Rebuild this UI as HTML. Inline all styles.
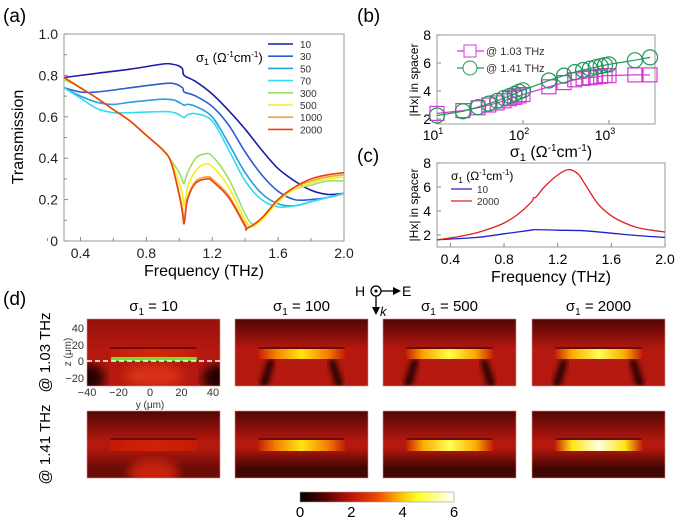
<!DOCTYPE html>
<html><head><meta charset="utf-8"><style>
body{margin:0;background:#fff}
svg{display:block;font-family:"Liberation Sans",sans-serif}
</style></head><body>
<svg id="fig" width="675" height="519" viewBox="0 0 675 519" xmlns="http://www.w3.org/2000/svg">
<defs>
<filter id="blur3"><feGaussianBlur stdDeviation="3"/></filter>
<filter id="blur5"><feGaussianBlur stdDeviation="5"/></filter>
<clipPath id="clipA"><rect x="64" y="34" width="280" height="207"/></clipPath>
<clipPath id="clipC"><rect x="437" y="163" width="228" height="84"/></clipPath>
</defs>
<g id="pa"></g>
<g id="pb"></g>
<g id="pc"></g>
<g id="pd"></g>
</svg>
<script>
// ---------- Panel (a) data ----------
const aSigmas=["10","30","50","70","300","500","1000","2000"];
const aColors=["#1c1ca8","#2c5cd8","#2a9ce2","#35dcf0","#98e068","#f2f020","#f5a535","#e84512"];
const aF10=[0.3,0.5,0.7,0.9,0.95,1.0,1.02,1.03,1.1,1.2,1.3,1.4,1.5,1.6,1.7,1.8,1.9,2.0];
const aT10=[0.79,0.81,0.83,0.855,0.855,0.845,0.83,0.80,0.77,0.71,0.63,0.54,0.44,0.35,0.29,0.245,0.225,0.23];
const aF30=[0.3,0.4,0.5,0.7,0.9,0.97,1.02,1.03,1.1,1.2,1.3,1.4,1.5,1.6,1.7,1.8,1.9,2.0];
const aT30=[0.74,0.72,0.72,0.74,0.76,0.76,0.74,0.72,0.70,0.65,0.56,0.43,0.32,0.24,0.20,0.20,0.21,0.23];
const aF50=[0.3,0.4,0.5,0.6,0.7,0.9,0.97,1.02,1.03,1.05,1.1,1.2,1.3,1.4,1.5,1.6,1.7,1.8,1.9,2.0];
const aT50=[0.74,0.70,0.67,0.66,0.67,0.685,0.68,0.66,0.655,0.66,0.65,0.60,0.47,0.33,0.23,0.18,0.17,0.19,0.21,0.23];
const aF70=[0.3,0.4,0.5,0.6,0.7,0.9,0.97,1.02,1.03,1.05,1.1,1.2,1.3,1.4,1.5,1.6,1.7,1.8,1.9,2.0];
const aT70=[0.74,0.69,0.64,0.62,0.62,0.625,0.62,0.60,0.595,0.61,0.615,0.58,0.44,0.29,0.20,0.165,0.17,0.19,0.21,0.23];
const aF300=[0.3,0.4,0.5,0.6,0.7,0.8,0.9,0.95,1.0,1.02,1.03,1.05,1.1,1.15,1.2,1.3,1.4,1.45,1.5,1.6,1.7,1.8,1.9,2.0];
const aT300=[0.78,0.74,0.69,0.635,0.58,0.51,0.44,0.39,0.33,0.29,0.28,0.33,0.40,0.42,0.41,0.30,0.13,0.08,0.11,0.20,0.25,0.27,0.29,0.29];
const aF500=[0.3,0.4,0.5,0.6,0.7,0.8,0.9,0.95,1.0,1.02,1.03,1.05,1.1,1.15,1.2,1.3,1.4,1.44,1.5,1.6,1.7,1.8,1.9,2.0];
const aT500=[0.785,0.74,0.69,0.635,0.58,0.51,0.44,0.385,0.28,0.22,0.17,0.26,0.34,0.37,0.36,0.26,0.10,0.07,0.10,0.19,0.25,0.28,0.30,0.31];
const aF1000=[0.3,0.4,0.5,0.6,0.7,0.8,0.9,0.95,1.0,1.02,1.03,1.05,1.1,1.17,1.2,1.3,1.4,1.42,1.5,1.6,1.7,1.8,1.9,2.0];
const aT1000=[0.79,0.74,0.69,0.635,0.58,0.51,0.44,0.38,0.23,0.15,0.10,0.21,0.29,0.31,0.30,0.22,0.08,0.065,0.11,0.20,0.26,0.29,0.31,0.32];
const aF2000=[0.3,0.4,0.5,0.6,0.7,0.8,0.9,0.95,1.0,1.02,1.03,1.05,1.1,1.17,1.2,1.3,1.4,1.41,1.5,1.6,1.7,1.8,1.9,2.0];
const aT2000=[0.79,0.74,0.69,0.635,0.58,0.51,0.44,0.38,0.22,0.13,0.085,0.20,0.28,0.30,0.29,0.21,0.07,0.06,0.11,0.20,0.26,0.30,0.32,0.33];
const aXTicks=[0.4,0.8,1.2,1.6,2.0];
const aXTickLabels=["0.4","0.8","1.2","1.6","2.0"];
const aYTicks=[0,0.2,0.4,0.6,0.8,1.0];
const aYTickLabels=["0","0.2","0.4","0.6","0.8","1.0"];
// ---------- Panel (b) data ----------
const bSigma=[10,20,30,40,50,60,70,80,90,100,200,300,400,500,600,700,800,900,1000,2000,3000];
const bH103=[2.4,2.6,2.8,3.0,3.15,3.3,3.45,3.55,3.65,3.75,4.3,4.6,4.8,4.9,4.95,5.0,5.05,5.1,5.1,5.15,5.15];
const bH141=[2.25,2.55,2.85,3.1,3.3,3.5,3.65,3.8,3.95,4.05,4.75,5.1,5.35,5.5,5.6,5.7,5.78,5.85,5.9,6.2,6.4];
const bYTicks=[2,4,6,8];
const bXDecades=[1,2,3];
// ---------- Panel (c) data ----------
const cF10=[0.3,0.6,0.8,1.0,1.03,1.2,1.4,1.6,1.8,2.0];
const cH10=[1.6,1.8,2.1,2.4,2.45,2.4,2.35,2.15,1.95,1.8];
const cF2000=[0.3,0.4,0.5,0.6,0.7,0.8,0.9,1.0,1.02,1.03,1.05,1.1,1.2,1.28,1.35,1.4,1.5,1.6,1.7,1.8,1.9,2.0];
const cH2000=[1.6,1.75,1.95,2.2,2.55,3.0,3.7,4.7,5.1,5.1,5.3,6.0,7.0,7.45,7.1,6.3,4.6,3.6,3.0,2.6,2.4,2.25];
const cXTicks=[0.4,0.8,1.2,1.6,2.0];
const cYTicks=[2,4,6,8];
// ---------- Panel (d) data ----------
const dColTitles=["10","100","500","2000"];
const dRowLabels=["@ 1.03 THz","@ 1.41 THz"];
const dPeak103=[2.4,4.3,4.8,4.9];
const dPeak141=[2.3,4.3,4.9,5.8];
const cbTicks=[0,2,4,6];

const NS="http://www.w3.org/2000/svg";
function mk(parent,tag,attrs,text){const e=document.createElementNS(NS,tag);for(const k in attrs)e.setAttribute(k,attrs[k]);if(text!==undefined)e.textContent=text;parent.appendChild(e);return e;}
function smooth(P){
 let d='M'+P[0][0].toFixed(1)+','+P[0][1].toFixed(1);
 for(let i=0;i<P.length-1;i++){
  const p0=P[Math.max(i-1,0)],p1=P[i],p2=P[i+1],p3=P[Math.min(i+2,P.length-1)];
  const k=1/6;
  const c1=[p1[0]+(p2[0]-p0[0])*k,p1[1]+(p2[1]-p0[1])*k];
  const c2=[p2[0]-(p3[0]-p1[0])*k,p2[1]-(p3[1]-p1[1])*k];
  d+=' C'+c1.map(v=>v.toFixed(1)).join(',')+' '+c2.map(v=>v.toFixed(1)).join(',')+' '+p2[0].toFixed(1)+','+p2[1].toFixed(1);
 }
 return d;
}

// ================= Panel (a) =================
const pa=document.getElementById('pa');
const ax=f=>64+(f-0.3)/1.7*280, ay=t=>241-t*207;
let t=mk(pa,'text',{x:3,y:22,'font-size':19},'(a)');


let fr=mk(pa,'rect',{x:64,y:34,width:280,height:207,fill:'none',stroke:'#999','stroke-width':1});


aXTicks.forEach((v,i)=>{
 mk(pa,'line',{x1:ax(v),x2:ax(v),y1:241,y2:237,stroke:'#888'});
 mk(pa,'line',{x1:ax(v)-33,x2:ax(v)-33,y1:241,y2:238,stroke:'#888'});
 const l=mk(pa,'text',{x:ax(v),y:258,'font-size':14,'text-anchor':'middle',fill:'#222'},aXTickLabels[i]);
 
 
});
aYTicks.forEach((v,i)=>{
 mk(pa,'line',{x1:64,x2:68,y1:ay(v),y2:ay(v),stroke:'#888'});
 if(v<1)mk(pa,'line',{x1:64,x2:67,y1:ay(v+0.1),y2:ay(v+0.1),stroke:'#888'});
 const l=mk(pa,'text',{x:58,y:ay(v)+5,'font-size':14,'text-anchor':'end',fill:'#222'},aYTickLabels[i]);
 
 
});
t=mk(pa,'text',{x:204,y:276,'font-size':16,'text-anchor':'middle'},'Frequency (THz)');


t=mk(pa,'text',{x:0,y:0,'font-size':16,'text-anchor':'middle',transform:'translate(23,137) rotate(-90)'},'Transmission');


const aF=[aF10,aF30,aF50,aF70,aF300,aF500,aF1000,aF2000];
const aT=[aT10,aT30,aT50,aT70,aT300,aT500,aT1000,aT2000];
const gA=mk(pa,'g',{'clip-path':'url(#clipA)'});
aSigmas.forEach((s,i)=>{
 const P=aF[i].map((f,j)=>[ax(f),ay(aT[i][j])]);
 const pl=mk(gA,'path',{d:smooth(P),fill:'none',stroke:aColors[i],'stroke-width':1.6,'stroke-linejoin':'round'});
 
 
});
t=mk(pa,'text',{x:196,y:62,'font-size':13},'');


t.innerHTML='σ<tspan font-size="9" dy="3">1</tspan><tspan dy="-3"> (Ω</tspan><tspan font-size="8" dy="-5">-1</tspan><tspan dy="5">cm</tspan><tspan font-size="8" dy="-5">-1</tspan><tspan dy="5">)</tspan>';
aSigmas.forEach((s,i)=>{
 const y=44+i*12.2;
 const g=mk(pa,'g',{});
 
 
 mk(g,'line',{x1:268,x2:293,y1:y,y2:y,stroke:aColors[i],'stroke-width':1.6});
 mk(g,'text',{x:300,y:y+4,'font-size':10,fill:'#333'},s);
});

// ================= Panel (b) =================
const pb=document.getElementById('pb');
const bx=s=>437+(Math.log10(s)-1)*86, by=h=>35+(8-h)*14;
t=mk(pb,'text',{x:357,y:22,'font-size':19},'(b)');


fr=mk(pb,'rect',{x:437,y:35,width:218,height:89,fill:'none',stroke:'#999'});


bYTicks.forEach(v=>{
 mk(pb,'line',{x1:437,x2:441,y1:by(v),y2:by(v),stroke:'#888'});
 const l=mk(pb,'text',{x:431,y:by(v)+5,'font-size':14,'text-anchor':'end'},String(v));
 
 
});
bXDecades.forEach(d=>{
 const x=bx(Math.pow(10,d));
 mk(pb,'line',{x1:x,x2:x,y1:124,y2:120,stroke:'#888'});
 const l=mk(pb,'text',{x:x-4,y:140,'font-size':14,'text-anchor':'middle'},'');
 l.innerHTML='10<tspan font-size="9" dy="-6">'+d+'</tspan>';
 
 
});
t=mk(pb,'text',{x:551,y:157,'font-size':16,'text-anchor':'middle'},'');
t.innerHTML='σ<tspan font-size="11" dy="4">1</tspan><tspan dy="-4"> (Ω</tspan><tspan font-size="10" dy="-6">-1</tspan><tspan dy="6">cm</tspan><tspan font-size="10" dy="-6">-1</tspan><tspan dy="6">)</tspan>';


t=mk(pb,'text',{x:0,y:0,'font-size':12,'text-anchor':'middle',transform:'translate(418,80) rotate(-90)'},'|Hx| in spacer');


function bSeries(vals,col,shape,name){
 const g=mk(pb,'g',{});
 
 
 mk(g,'polyline',{points:bSigma.map((s,j)=>bx(s).toFixed(1)+','+by(vals[j]).toFixed(1)).join(' '),fill:'none',stroke:col,'stroke-width':1.2});
 bSigma.forEach((s,j)=>{
  let m;
  if(shape==='sq')m=mk(g,'rect',{x:bx(s)-7,y:by(vals[j])-7,width:14,height:14,fill:'none',stroke:col,'stroke-width':1.2});
  else m=mk(g,'circle',{cx:bx(s),cy:by(vals[j]),r:7.5,fill:'none',stroke:col,'stroke-width':1.2});
  
  
 });
}
bSeries(bH103,'#d838d8','sq','series-1-03-thz');
bSeries(bH141,'#20965a','ci','series-1-41-thz');
[['sq','#d838d8','@ 1.03 THz',51],['ci','#20965a','@ 1.41 THz',68]].forEach(e=>{
 const g=mk(pb,'g',{});
 
 
 mk(g,'line',{x1:457,x2:484,y1:e[3],y2:e[3],stroke:e[1],'stroke-width':1.2});
 if(e[0]==='sq')mk(g,'rect',{x:464,y:e[3]-6,width:12,height:12,fill:'#fff',stroke:e[1]});
 else mk(g,'circle',{cx:470,cy:e[3],r:7,fill:'#fff',stroke:e[1]});
 mk(g,'text',{x:486,y:e[3]+4,'font-size':11,fill:'#333'},e[2]);
});

// ================= Panel (c) =================
const pc=document.getElementById('pc');
const cx=f=>437+(f-0.3)/1.7*228, cy=h=>247-(h-1)*12;
t=mk(pc,'text',{x:357,y:162,'font-size':19},'(c)');


fr=mk(pc,'rect',{x:437,y:163,width:228,height:84,fill:'none',stroke:'#999'});


cYTicks.forEach(v=>{
 mk(pc,'line',{x1:437,x2:441,y1:cy(v),y2:cy(v),stroke:'#888'});
 const l=mk(pc,'text',{x:431,y:cy(v)+5,'font-size':14,'text-anchor':'end'},String(v));
 
 
});
cXTicks.forEach(v=>{
 mk(pc,'line',{x1:cx(v),x2:cx(v),y1:247,y2:243,stroke:'#888'});
 const l=mk(pc,'text',{x:cx(v),y:264,'font-size':14,'text-anchor':'middle'},v.toFixed(1));
 
 
});
t=mk(pc,'text',{x:551,y:282,'font-size':16,'text-anchor':'middle'},'Frequency (THz)');


t=mk(pc,'text',{x:0,y:0,'font-size':12,'text-anchor':'middle',transform:'translate(418,205) rotate(-90)'},'|Hx| in spacer');


const gC=mk(pc,'g',{'clip-path':'url(#clipC)'});
let pl=mk(gC,'path',{d:smooth(cF10.map((f,j)=>[cx(f),cy(cH10[j])])),fill:'none',stroke:'#2020d0','stroke-width':1.3});


pl=mk(gC,'path',{d:smooth(cF2000.map((f,j)=>[cx(f),cy(cH2000[j])])),fill:'none',stroke:'#e02020','stroke-width':1.3});


t=mk(pc,'text',{x:451,y:180,'font-size':12},'');
t.innerHTML='σ<tspan font-size="8" dy="3">1</tspan><tspan dy="-3"> (Ω</tspan><tspan font-size="8" dy="-5">-1</tspan><tspan dy="5">cm</tspan><tspan font-size="8" dy="-5">-1</tspan><tspan dy="5">)</tspan>';


[['#2020d0','10',189],['#e02020','2000',201]].forEach(e=>{
 const g=mk(pc,'g',{});
 
 
 mk(g,'line',{x1:451,x2:472,y1:e[2],y2:e[2],stroke:e[0],'stroke-width':1.3});
 mk(g,'text',{x:477,y:e[2]+4,'font-size':10,fill:'#333'},e[1]);
});

// ================= Panel (d) =================
const pd=document.getElementById('pd');
const cmStops=[[0,[0,0,0]],[1,[90,0,0]],[2,[190,20,8]],[3,[240,70,0]],[4,[255,200,0]],[4.6,[255,255,40]],[6,[255,255,255]]];
function cmap(v){
 for(let i=1;i<cmStops.length;i++){if(v<=cmStops[i][0]){const a=cmStops[i-1],b=cmStops[i],u=(v-a[0])/(b[0]-a[0]);
  return 'rgb('+a[1].map((c,k)=>Math.round(c+(b[1][k]-c)*u)).join(',')+')';}}
 return 'rgb(255,255,255)';
}
const defs=document.querySelector('defs');
t=mk(pd,'text',{x:3,y:305,'font-size':19},'(d)');


const colX=[87,235,383,532], rowY=[319,411], W=133, H=67;
dColTitles.forEach((s,i)=>{
 const l=mk(pd,'text',{x:colX[i]+W/2,y:311,'font-size':15,'text-anchor':'middle'},'');
 l.innerHTML='σ<tspan font-size="10" dy="4">1</tspan><tspan dy="-4"> = '+s+'</tspan>';
 
 
});
dRowLabels.forEach((s,i)=>{
 const l=mk(pd,'text',{x:0,y:0,'font-size':15,'text-anchor':'middle',transform:'translate(50,'+(rowY[i]+H/2)+') rotate(-90)'},s);
 
 
});
const peaks=[dPeak103,dPeak141];
let gid=0;
function grad(id,vert,stops){const g=mk(defs,'linearGradient',vert?{id,x1:0,y1:0,x2:0,y2:1}:{id,x1:0,y1:0,x2:1,y2:0});stops.forEach(s=>mk(g,'stop',{offset:s[0],'stop-color':s[1],'stop-opacity':s[2]===undefined?1:s[2]}));}
for(let r=0;r<2;r++)for(let c=0;c<4;c++){
 const x0=colX[c],y0=rowY[r];
 const cid='hc'+(gid++);
 const cp=mk(defs,'clipPath',{id:cid});mk(cp,'rect',{x:x0,y:y0,width:W,height:H});
 const g=mk(pd,'g',{'clip-path':'url(#'+cid+')'});
 
 
 mk(g,'rect',{x:x0,y:y0,width:W,height:H,fill:'#b4180e'});
 const tg='tg'+gid;
 grad(tg,true,[[0,'#300000',c===0&&r===0?0.25:0.75],[0.45,'#300000',0]]);
 mk(g,'rect',{x:x0,y:y0,width:W,height:H,fill:'url(#'+tg+')'});
 const barY=y0+(r===0?30:29), barH=r===0?10:11;
 if(r===0){
  if(c===0){
   mk(g,'ellipse',{cx:x0,cy:y0+H-8,rx:18,ry:14,fill:'#200000',filter:'url(#blur5)'});
   mk(g,'ellipse',{cx:x0+W,cy:y0+H-8,rx:18,ry:14,fill:'#200000',filter:'url(#blur5)'});
   mk(g,'ellipse',{cx:x0+W/2,cy:y0+H-10,rx:30,ry:12,fill:'#d83018',filter:'url(#blur5)'});
  } else {
   const sh=c===1?0:4;
   [[-1],[1]].forEach(d=>{const s=d[0];
    const xb=x0+W/2+s*(30+sh), xe=x0+W/2+s*(38+sh);
    mk(g,'polygon',{points:`${xb-3},${barY+barH} ${xb+3},${barY+barH} ${xe+4},${y0+H} ${xe-4},${y0+H}`,fill:'#150000',filter:'url(#blur3)'});
   });
  }
 } else {
  const bg='bg'+gid;
  grad(bg,true,[[0.55,'#250000',0],[0.85,'#250000',c===0?0.5:0.8]]);
  mk(g,'rect',{x:x0,y:y0,width:W,height:H,fill:'url(#'+bg+')'});
  if(c===0)mk(g,'ellipse',{cx:x0+W/2,cy:y0+H-5,rx:25,ry:14,fill:'#c82010',filter:'url(#blur5)'});
 }
 const pk=peaks[r][c];
 const hg='hg'+gid;
 grad(hg,false,[[0,cmap(2.1)],[0.2,cmap(2.1+(pk-2.1)*0.6)],[0.5,cmap(pk)],[0.8,cmap(2.1+(pk-2.1)*0.6)],[1,cmap(2.1)]]);
 const bar=mk(g,'rect',{x:x0+W/2-44,y:barY,width:88,height:barH,fill:'url(#'+hg+')',rx:2});
 
 
 mk(g,'line',{x1:x0+W/2-43,x2:x0+W/2+43,y1:barY-1,y2:barY-1,stroke:'#200000','stroke-width':1});
 mk(pd,'rect',{x:x0,y:y0,width:W,height:H,fill:'none',stroke:'#d88','stroke-width':0.6});
}
let ov=mk(pd,'rect',{x:111,y:357,width:86,height:4,fill:'#70e030',rx:1});


ov=mk(pd,'line',{x1:87,x2:220,y1:361,y2:361,stroke:'#fff','stroke-width':1.5,'stroke-dasharray':'5,3'});


[[40,328],[20,345],[0,361],[-20,378]].forEach(z=>{
 const l=mk(pd,'text',{x:84,y:z[1]+4,'font-size':11,'text-anchor':'end',fill:'#333'},z[0]<0?'−'+(-z[0]):String(z[0]));
 
 
});
[[-40,87],[-20,118.5],[0,150],[20,181.5],[40,213]].forEach(yv=>{
 const l=mk(pd,'text',{x:yv[1],y:396,'font-size':11,'text-anchor':'middle',fill:'#333'},yv[0]<0?'−'+(-yv[0]):String(yv[0]));
 
 
});
t=mk(pd,'text',{x:150,y:408,'font-size':10,'text-anchor':'middle',fill:'#333'},'y (μm)');


t=mk(pd,'text',{x:0,y:0,'font-size':10,'text-anchor':'middle',fill:'#333',transform:'translate(71,352) rotate(-90)'},'z (μm)');


const ic=mk(pd,'g',{});


mk(ic,'text',{x:355,y:296,'font-size':14},'H');
mk(ic,'circle',{cx:376,cy:291,r:5,fill:'none',stroke:'#000','stroke-width':1.3});
mk(ic,'circle',{cx:376,cy:291,r:1.5,fill:'#000'});
mk(ic,'line',{x1:381,x2:395,y1:291,y2:291,stroke:'#000','stroke-width':1.3});
mk(ic,'polygon',{points:'393,287 401,291 393,295',fill:'#000'});
mk(ic,'text',{x:402,y:296,'font-size':14},'E');
mk(ic,'line',{x1:376,x2:376,y1:296,y2:309,stroke:'#000','stroke-width':1.3});
mk(ic,'polygon',{points:'372,307 376,315 380,307',fill:'#000'});
mk(ic,'text',{x:380,y:316,'font-size':13,'font-style':'italic'},'k');
grad('cbgrad',false,cmStops.map(s=>[s[0]/6,'rgb('+s[1].join(',')+')']));
const cb=mk(pd,'rect',{x:300,y:492,width:154,height:10,fill:'url(#cbgrad)',stroke:'#999','stroke-width':0.6});


cbTicks.forEach(v=>{
 const l=mk(pd,'text',{x:300+v/6*154,y:517,'font-size':15,'text-anchor':'middle'},String(v));
 
 
});
</script>
</body></html>
